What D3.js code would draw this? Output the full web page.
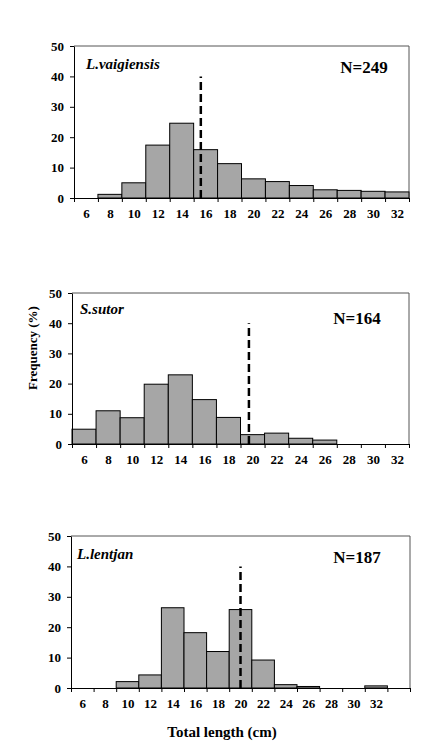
<!DOCTYPE html>
<html>
<head>
<meta charset="utf-8">
<script src="https://cdn.jsdelivr.net/npm/d3@7"></script>
<style>
  body { margin: 0; background: #fff; }
  svg { display: block; }
  svg text { font-family: "Liberation Serif", "Times New Roman", "DejaVu Serif", serif; fill: #000; }
</style>
</head>
<body>
<svg id="chart" width="421" height="756"></svg>
<script>
// bin centres (cm), width 2
const lengths = [6, 8, 10, 12, 14, 16, 18, 20, 22, 24, 26, 28, 30, 32];

// frequency (%) per bin
const vaigiensis = [0, 1.2, 5.0, 17.4, 24.6, 15.9, 11.3, 6.3, 5.4, 4.1, 2.7, 2.5, 2.2, 2.0];
const sutor = [4.9, 11.0, 8.7, 19.8, 22.9, 14.7, 8.8, 3.1, 3.6, 1.9, 1.3, 0, 0, 0];
const lentjan = [0, 0, 2.1, 4.3, 26.4, 18.2, 12.0, 25.8, 9.2, 1.1, 0.5, 0, 0, 0.7];

const species = ["L.vaigiensis", "S.sutor", "L.lentjan"];
const sampleSize = [249, 164, 187];
const meanLength = [15.6, 19.7, 20.0]; // dashed line position
const dashTop = 40;
const yTicks = [0, 10, 20, 30, 40, 50];

const svg = d3.select("#chart");

// per panel layout
const panels = [
  { values: vaigiensis, x0: 74, x1: 409, top: 46, bottom: 198, xMax: 33,
    nameX: 86, nameY: 69, nX: 364, nY: 73 },
  { values: sutor, x0: 72, x1: 409, top: 293, bottom: 444, xMax: 33,
    nameX: 80, nameY: 314, nX: 357, nY: 324 },
  { values: lentjan, x0: 71, x1: 410, top: 536, bottom: 688, xMax: 35,
    nameX: 77, nameY: 559, nX: 357, nY: 563 }
];

panels.forEach((p, i) => {
  const g = svg.append("g");

  const x = d3.scaleLinear().domain([5, p.xMax]).range([p.x0, p.x1]);
  const y = d3.scaleLinear().domain([0, 50]).range([p.bottom, p.top]);

  // frame (top + right)
  g.append("path")
    .attr("d", `M${p.x0},${p.top}H${p.x1}V${p.bottom}`)
    .attr("fill", "none")
    .attr("stroke", "#555")
    .attr("stroke-width", 1);

  // bars
  const bins = lengths.map((l, j) => ({ l, v: p.values[j] })).filter(d => d.v > 0);
  g.selectAll("rect")
    .data(bins)
    .join("rect")
    .attr("x", d => x(d.l - 1))
    .attr("y", d => y(d.v))
    .attr("width", d => x(d.l + 1) - x(d.l - 1))
    .attr("height", d => y(0) - y(d.v))
    .attr("fill", "#a6a6a6")
    .attr("stroke", "#000")
    .attr("stroke-width", 1);

  // y axis
  const yAxis = g.append("g")
    .attr("transform", `translate(${p.x0},0)`)
    .call(d3.axisLeft(y).tickValues(yTicks).tickSizeInner(4).tickSizeOuter(0).tickPadding(6));
  yAxis.attr("font-family", null);
  yAxis.selectAll("text").attr("font-size", 13).attr("font-weight", "bold");

  // x axis: ticks at bin edges, labels at bin centres
  const edges = d3.range(5, p.xMax + 1, 2);
  const xAxis = g.append("g")
    .attr("transform", `translate(0,${p.bottom})`)
    .call(d3.axisBottom(x).tickValues(edges).tickSizeInner(4).tickSizeOuter(0).tickFormat(""));
  xAxis.select(".domain").attr("stroke", "#000");

  const xLabels = g.append("g")
    .attr("transform", `translate(0,${p.bottom})`)
    .call(d3.axisBottom(x).tickValues(lengths).tickSize(0).tickPadding(11));
  xLabels.attr("font-family", null);
  xLabels.select(".domain").remove();
  xLabels.selectAll("text").attr("font-size", 13).attr("font-weight", "bold");

  // mean length dashed line
  g.append("line")
    .attr("x1", x(meanLength[i]))
    .attr("x2", x(meanLength[i]))
    .attr("y1", y(0))
    .attr("y2", y(dashTop))
    .attr("stroke", "#000")
    .attr("stroke-width", 2.5)
    .attr("stroke-dasharray", "8,4");

  // species name
  g.append("text")
    .attr("x", p.nameX)
    .attr("y", p.nameY)
    .attr("font-size", 15)
    .attr("font-weight", "bold")
    .attr("font-style", "italic")
    .text(species[i]);

  // sample size
  g.append("text")
    .attr("x", p.nX)
    .attr("y", p.nY)
    .attr("text-anchor", "middle")
    .attr("font-size", 17)
    .attr("font-weight", "bold")
    .text(`N=${sampleSize[i]}`);
});

// axis titles
svg.append("text")
  .attr("transform", "translate(37,348) rotate(-90)")
  .attr("text-anchor", "middle")
  .attr("font-size", 13)
  .attr("font-weight", "bold")
  .text("Frequency (%)");

svg.append("text")
  .attr("x", 222)
  .attr("y", 737)
  .attr("text-anchor", "middle")
  .attr("font-size", 15)
  .attr("font-weight", "bold")
  .text("Total length (cm)");
</script>
</body>
</html>
